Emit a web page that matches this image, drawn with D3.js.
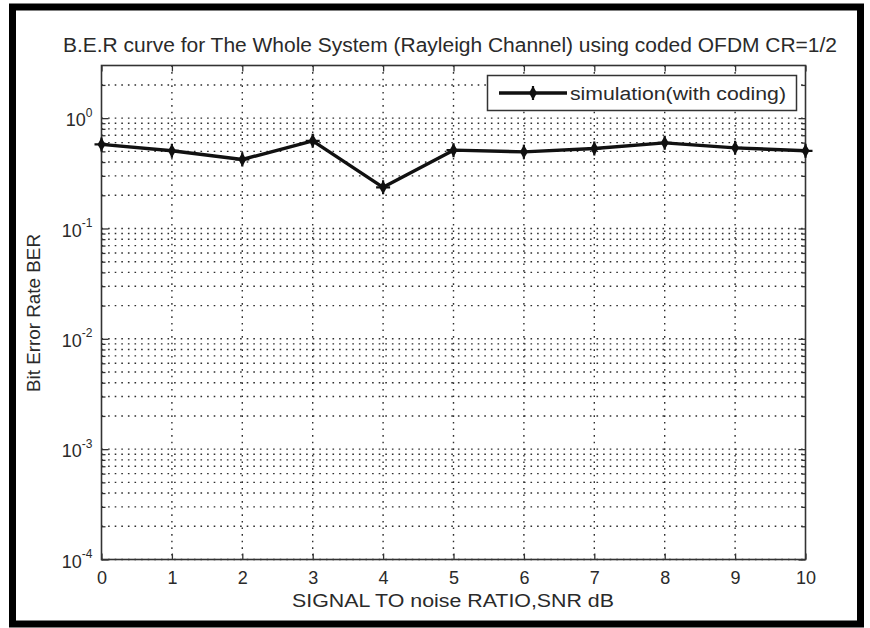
<!DOCTYPE html>
<html>
<head>
<meta charset="utf-8">
<script src="https://cdn.jsdelivr.net/npm/d3@7"></script>
<style>
  body { margin: 0; background: #fff; }
  text { font-family: "Liberation Sans", Arial, sans-serif; fill: #2a2a2a; }
</style>
</head>
<body>
<script>
// datos
const snr = [0, 1, 2, 3, 4, 5, 6, 7, 8, 9, 10];
const ber = [0.578, 0.506, 0.422, 0.623, 0.236, 0.513, 0.495, 0.531, 0.597, 0.538, 0.506];
const xTicks = [0, 1, 2, 3, 4, 5, 6, 7, 8, 9, 10];
const yDecades = [1e-4, 1e-3, 1e-2, 1e-1, 1];
const yExponents = ["-4", "-3", "-2", "-1", "0"];
const titulo = "B.E.R curve for The Whole System (Rayleigh Channel) using coded OFDM CR=1/2";
const etiquetaX = "SIGNAL TO noise RATIO,SNR dB";
const etiquetaY = "Bit Error Rate BER";
const leyenda = "simulation(with coding)";

const W = 870, H = 628;
const izq = 101.5, der = 805.5, arriba = 65.5, abajo = 559.5;

const svg = d3.select("body").append("svg")
  .attr("width", W)
  .attr("height", H);

// marco negro exterior
svg.append("rect")
  .attr("x", 12.5).attr("y", 7)
  .attr("width", 848).attr("height", 617)
  .attr("fill", "white")
  .attr("stroke", "black")
  .attr("stroke-width", 7);

const x = d3.scaleLinear().domain([0, 10]).range([izq, der]);
const y = d3.scaleLog().domain([1e-4, 3]).range([abajo, arriba]);

// ticks menores del eje log
const yMenores = [];
yDecades.forEach(d => {
  for (let k = 2; k <= 9; k++) if (d * k < 3) yMenores.push(d * k);
});

// grilla punteada
const grilla = svg.append("g").attr("stroke", "#2e2e2e").attr("stroke-width", 1.4)
  .attr("stroke-dasharray", "1.6,5");
grilla.selectAll(".gx").data(xTicks.slice(1, -1)).join("line")
  .attr("x1", d => x(d)).attr("x2", d => x(d))
  .attr("y1", arriba).attr("y2", abajo);
grilla.selectAll(".gy").data(yDecades.concat(yMenores)).join("line")
  .attr("x1", izq).attr("x2", der)
  .attr("y1", d => y(d)).attr("y2", d => y(d));

// ejes
const ejeAbajo = svg.append("g")
  .attr("transform", `translate(0,${abajo})`)
  .call(d3.axisBottom(x).tickValues(xTicks).tickSize(-6).tickPadding(12));
const ejeArriba = svg.append("g")
  .attr("transform", `translate(0,${arriba})`)
  .call(d3.axisTop(x).tickValues(xTicks).tickSize(-6).tickFormat(""));
const ejeIzq = svg.append("g")
  .attr("transform", `translate(${izq},0)`)
  .call(d3.axisLeft(y).tickValues(yDecades).tickSize(-7).tickPadding(18));
const ejeIzqMenor = svg.append("g")
  .attr("transform", `translate(${izq},0)`)
  .call(d3.axisLeft(y).tickValues(yMenores).tickSize(-4).tickFormat(""));
const ejeDer = svg.append("g")
  .attr("transform", `translate(${der},0)`)
  .call(d3.axisRight(y).tickValues(yDecades).tickSize(-7).tickFormat(""));
const ejeDerMenor = svg.append("g")
  .attr("transform", `translate(${der},0)`)
  .call(d3.axisRight(y).tickValues(yMenores).tickSize(-4).tickFormat(""));

[ejeAbajo, ejeArriba, ejeIzq, ejeIzqMenor, ejeDer, ejeDerMenor].forEach(g => {
  g.select(".domain").remove();
  g.selectAll(".tick line").attr("stroke", "#333").attr("stroke-width", 1.3);
  g.selectAll("text").attr("font-size", 18).attr("font-family", null);
});

// etiquetas 10^n
ejeIzq.selectAll(".tick text")
  .text(null)
  .attr("dy", "0.42em")
  .each(function(d, i) {
    const t = d3.select(this);
    t.attr("x", -9);
    t.append("tspan").text("10");
    t.append("tspan").attr("font-size", 12).attr("dy", "-0.8em").text(yExponents[i]);
  });

// caja del grafico
svg.append("rect")
  .attr("x", izq).attr("y", arriba)
  .attr("width", der - izq).attr("height", abajo - arriba)
  .attr("fill", "none")
  .attr("stroke", "#333")
  .attr("stroke-width", 1.6);

// curva
const datos = snr.map((s, i) => ({ s, b: ber[i] }));
svg.append("path")
  .datum(datos)
  .attr("fill", "none")
  .attr("stroke", "#111")
  .attr("stroke-width", 3.4)
  .attr("stroke-linejoin", "round")
  .attr("d", d3.line().x(d => x(d.s)).y(d => y(d.b)));

function marcador(g) {
  g.append("path")
    .attr("d", d3.symbol(d3.symbolDiamond, 55)())
    .attr("fill", "#111");
  g.append("path")
    .attr("d", "M-7,0H7M0,-7V7")
    .attr("stroke", "#111")
    .attr("stroke-width", 2.2);
}

svg.selectAll(".mk").data(datos).join("g")
  .attr("transform", d => `translate(${x(d.s)},${y(d.b)})`)
  .each(function() { marcador(d3.select(this)); });

// leyenda
const ley = svg.append("g");
ley.append("rect")
  .attr("x", 487.5).attr("y", 75.5)
  .attr("width", 309).attr("height", 35)
  .attr("fill", "white")
  .attr("stroke", "#333")
  .attr("stroke-width", 1.5);
ley.append("line")
  .attr("x1", 499).attr("x2", 567)
  .attr("y1", 93).attr("y2", 93)
  .attr("stroke", "#111").attr("stroke-width", 3.4);
marcador(ley.append("g").attr("transform", "translate(533,93)"));
ley.append("text")
  .attr("x", 570).attr("y", 99.5)
  .attr("font-size", 18)
  .attr("textLength", 216)
  .attr("lengthAdjust", "spacingAndGlyphs")
  .text(leyenda);

// titulo y etiquetas
svg.append("text")
  .attr("x", 450).attr("y", 52)
  .attr("text-anchor", "middle")
  .attr("font-size", 20)
  .attr("textLength", 774)
  .attr("lengthAdjust", "spacingAndGlyphs")
  .text(titulo);

svg.append("text")
  .attr("x", 453).attr("y", 607)
  .attr("text-anchor", "middle")
  .attr("font-size", 18)
  .attr("textLength", 322)
  .attr("lengthAdjust", "spacingAndGlyphs")
  .text(etiquetaX);

svg.append("text")
  .attr("transform", "translate(40,313) rotate(-90)")
  .attr("text-anchor", "middle")
  .attr("font-size", 19)
  .attr("textLength", 158)
  .attr("lengthAdjust", "spacingAndGlyphs")
  .text(etiquetaY);
</script>
</body>
</html>
